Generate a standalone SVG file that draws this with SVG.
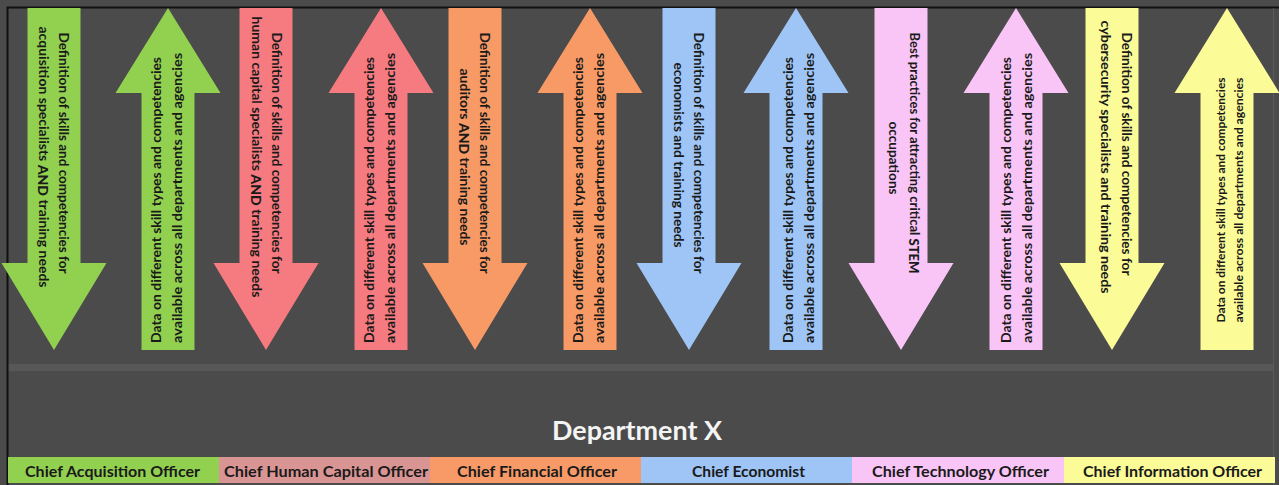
<svg xmlns="http://www.w3.org/2000/svg" width="1279" height="485" viewBox="0 0 1279 485">
<style>
.bg{fill:#4b4b4b}
.g{fill:#92d050}.r{fill:#f57b80}.o{fill:#f79a66}.b{fill:#9ec5f5}.p{fill:#f9c5f6}.y{fill:#fbfb98}
.t{font-family:Lato,"Liberation Sans",sans-serif;font-weight:700;fill:#1a1a1a;text-anchor:middle;dominant-baseline:central}
.dt{font-size:12.5px}
.ut{font-size:13px}
.ut2{font-size:11px}
.em{font-weight:900}
.bar{font-family:Lato,"Liberation Sans",sans-serif;font-weight:700;font-size:15.5px;fill:#1a1a1a;text-anchor:middle}
.title{font-family:Lato,"Liberation Sans",sans-serif;font-weight:700;font-size:26px;fill:#f4f4f4;text-anchor:middle}
</style>
<defs>
<path id="down" d="M-26.5,8 H26.5 V263 H52.5 L0,350 L-52.5,263 H-26.5 Z"/>
<path id="up" d="M0,8 L52.5,93 H26.5 V350 H-26.5 V93 H-52.5 Z"/>
</defs>
<rect class="bg" x="0" y="0" width="1279" height="485"/>
<rect x="8" y="364" width="1266" height="7" fill="#575757"/>
<path d="M7.5,485 V7.5 H1279" fill="none" stroke="#111" stroke-width="2"/>
<path d="M1273.5,8 V485" fill="none" stroke="#5a5a5a" stroke-width="1"/>

<g id="connectors"/>

<g id="cao-down">
<use href="#down" class="g" x="54"/>
<text class="t dt" transform="translate(63,153) rotate(90)" textLength="241" lengthAdjust="spacingAndGlyphs">Definition of skills and competencies for</text>
<text class="t dt" transform="translate(43,157) rotate(90)" textLength="261" lengthAdjust="spacingAndGlyphs">acquisition specialists <tspan class="em">AND</tspan> training needs</text>
</g>
<g id="cao-up">
<use href="#up" class="g" x="168"/>
<text class="t ut" transform="translate(156,200) rotate(-90)" textLength="286" lengthAdjust="spacingAndGlyphs">Data on different skill types and competencies</text>
<text class="t ut" transform="translate(177,198) rotate(-90)" textLength="290" lengthAdjust="spacingAndGlyphs">available across all departments and agencies</text>
</g>

<g id="chco-down">
<use href="#down" class="r" x="266"/>
<text class="t dt" transform="translate(276,153) rotate(90)" textLength="241" lengthAdjust="spacingAndGlyphs">Definition of skills and competencies for</text>
<text class="t dt" transform="translate(256,157) rotate(90)" textLength="281" lengthAdjust="spacingAndGlyphs">human capital specialists <tspan class="em">AND</tspan> training needs</text>
</g>
<g id="chco-up">
<use href="#up" class="r" x="381"/>
<text class="t ut" transform="translate(369,200) rotate(-90)" textLength="286" lengthAdjust="spacingAndGlyphs">Data on different skill types and competencies</text>
<text class="t ut" transform="translate(390,198) rotate(-90)" textLength="290" lengthAdjust="spacingAndGlyphs">available across all departments and agencies</text>
</g>

<g id="cfo-down">
<use href="#down" class="o" x="475"/>
<text class="t dt" transform="translate(484,153) rotate(90)" textLength="241" lengthAdjust="spacingAndGlyphs">Definition of skills and competencies for</text>
<text class="t dt" transform="translate(464,157) rotate(90)" textLength="177" lengthAdjust="spacingAndGlyphs">auditors <tspan class="em">AND</tspan> training needs</text>
</g>
<g id="cfo-up">
<use href="#up" class="o" x="590"/>
<text class="t ut" transform="translate(578,200) rotate(-90)" textLength="286" lengthAdjust="spacingAndGlyphs">Data on different skill types and competencies</text>
<text class="t ut" transform="translate(599,198) rotate(-90)" textLength="290" lengthAdjust="spacingAndGlyphs">available across all departments and agencies</text>
</g>

<g id="ce-down">
<use href="#down" class="b" x="689"/>
<text class="t dt" transform="translate(698,153) rotate(90)" textLength="241" lengthAdjust="spacingAndGlyphs">Definition of skills and competencies for</text>
<text class="t dt" transform="translate(678,155) rotate(90)" textLength="185" lengthAdjust="spacingAndGlyphs">economists and training needs</text>
</g>
<g id="ce-up">
<use href="#up" class="b" x="796"/>
<text class="t ut" transform="translate(788,200) rotate(-90)" textLength="286" lengthAdjust="spacingAndGlyphs">Data on different skill types and competencies</text>
<text class="t ut" transform="translate(809,198) rotate(-90)" textLength="290" lengthAdjust="spacingAndGlyphs">available across all departments and agencies</text>
</g>

<g id="cto-down">
<use href="#down" class="p" x="901"/>
<text class="t dt" transform="translate(914,153) rotate(90)" textLength="241" lengthAdjust="spacingAndGlyphs">Best practices for attracting critical <tspan class="em">STEM</tspan></text>
<text class="t dt" transform="translate(893,158) rotate(90)" textLength="73" lengthAdjust="spacingAndGlyphs">occupations</text>
</g>
<g id="cto-up">
<use href="#up" class="p" x="1016"/>
<text class="t ut" transform="translate(1006,200) rotate(-90)" textLength="286" lengthAdjust="spacingAndGlyphs">Data on different skill types and competencies</text>
<text class="t ut" transform="translate(1027,198) rotate(-90)" textLength="290" lengthAdjust="spacingAndGlyphs">available across all departments and agencies</text>
</g>

<g id="cio-down">
<use href="#down" class="y" x="1112"/>
<text class="t dt" transform="translate(1126,154) rotate(90)" textLength="243" lengthAdjust="spacingAndGlyphs">Definition of skills and competencies for</text>
<text class="t dt" transform="translate(1105,157) rotate(90)" textLength="273" lengthAdjust="spacingAndGlyphs">cybersecurity specialists and training needs</text>
</g>
<g id="cio-up">
<use href="#up" class="y" x="1227"/>
<text class="t ut2" transform="translate(1220,200) rotate(-90)" textLength="245" lengthAdjust="spacingAndGlyphs">Data on different skill types and competencies</text>
<text class="t ut2" transform="translate(1238,200) rotate(-90)" textLength="245" lengthAdjust="spacingAndGlyphs">available across all departments and agencies</text>
</g>

<g id="department">
<text class="title" x="637" y="440" textLength="170" lengthAdjust="spacingAndGlyphs">Department X</text>
</g>

<g id="bar-cao"><rect x="8" y="457" width="211" height="26" fill="#92d050"/><text class="bar" x="112.5" y="477" textLength="175" lengthAdjust="spacingAndGlyphs">Chief Acquisition Officer</text></g>
<g id="bar-chco"><rect x="219" y="457" width="211" height="26" fill="#d99594"/><text class="bar" x="326" y="477" textLength="204" lengthAdjust="spacingAndGlyphs">Chief Human Capital Officer</text></g>
<g id="bar-cfo"><rect x="430" y="457" width="211" height="26" fill="#f79a68"/><text class="bar" x="537" y="477" textLength="160" lengthAdjust="spacingAndGlyphs">Chief Financial Officer</text></g>
<g id="bar-ce"><rect x="641" y="457" width="211" height="26" fill="#9ec5f5"/><text class="bar" x="748.5" y="477" textLength="113" lengthAdjust="spacingAndGlyphs">Chief Economist</text></g>
<g id="bar-cto"><rect x="852" y="457" width="212" height="26" fill="#f9c5f6"/><text class="bar" x="960.5" y="477" textLength="177" lengthAdjust="spacingAndGlyphs">Chief Technology Officer</text></g>
<g id="bar-cio"><rect x="1064" y="457" width="211" height="26" fill="#fbfb98"/><text class="bar" x="1172.5" y="477" textLength="179" lengthAdjust="spacingAndGlyphs">Chief Information Officer</text></g>
</svg>
